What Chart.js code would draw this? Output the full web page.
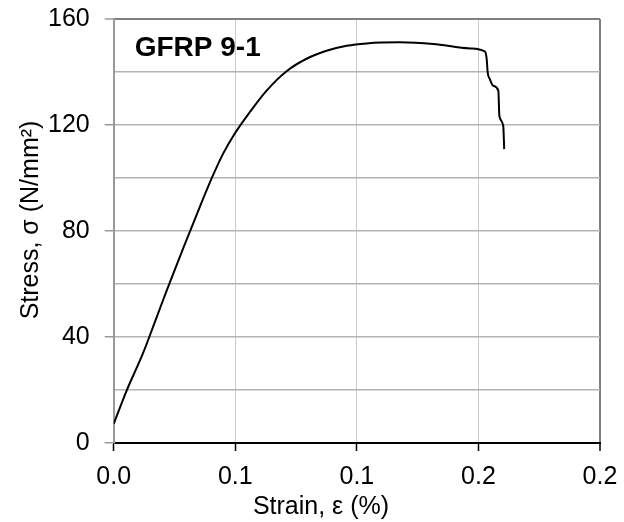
<!DOCTYPE html>
<html>
<head>
<meta charset="utf-8">
<script src="https://cdn.jsdelivr.net/npm/chart.js@4.4.1/dist/chart.umd.min.js"></script>
<style>
  html, body { margin: 0; padding: 0; background: #fff; }
  #wrap { width: 624px; height: 522px; position: relative; }
</style>
</head>
<body>
<div id="wrap"><canvas id="stressChart"></canvas></div>
<script>
// strain (%) and stress (N/mm2)
const strain = [0, 0.0052, 0.0121, 0.0178, 0.0219, 0.0288, 0.0343, 0.0405, 0.0450, 0.0498,
  0.0560, 0.0628, 0.0711, 0.0793, 0.0875, 0.0958, 0.1040, 0.1177, 0.1314, 0.1465,
  0.1527, 0.1534, 0.1538, 0.1547, 0.1561, 0.1582, 0.1586, 0.1602, 0.1606];
const stress = [7.2, 19.5, 34.0, 47.8, 57.8, 74.0, 86.6, 100.3, 109.2, 116.8,
  124.9, 132.9, 140.3, 145.0, 148.0, 149.9, 150.8, 151.2, 150.6, 148.9,
  147.7, 144.9, 139.9, 137.3, 134.8, 132.9, 123.5, 119.7, 110.9];

// Excel-style rounded labels for ticks at 0, 0.05, 0.10, 0.15, 0.20
const xTickLabels = ['0.0', '0.1', '0.1', '0.2', '0.2'];
const chartTitle = 'GFRP 9-1';
const xTitle = 'Strain, ε (%)';
const yTitle = 'Stress, σ (N/mm²)';

const FONT = 'Arial, "Liberation Sans", sans-serif';

// axis titles and the label inside the plot
const textPlugin = {
  id: 'texts',
  afterDraw(chart) {
    const ctx = chart.ctx;
    const area = chart.chartArea;
    ctx.save();
    ctx.fillStyle = '#000';
    ctx.font = 'bold 28px ' + FONT;
    ctx.textAlign = 'left';
    ctx.textBaseline = 'alphabetic';
    ctx.fillText(chartTitle, area.left + 21, area.top + 37);

    ctx.font = '25px ' + FONT;
    ctx.textAlign = 'center';
    ctx.textBaseline = 'middle';
    ctx.fillText(xTitle, 321, 507);

    ctx.translate(31, 220);
    ctx.rotate(-Math.PI / 2);
    ctx.fillText(yTitle, 0, 0);
    ctx.restore();
  }
};

const ctx = document.getElementById('stressChart');
new Chart(ctx, {
  type: 'scatter',
  data: {
    datasets: [{
      label: chartTitle,
      data: strain.map((s, i) => ({ x: s, y: stress[i] })),
      showLine: true,
      borderColor: '#000',
      borderWidth: 2,
      pointRadius: 0,
      cubicInterpolationMode: 'monotone'
    }]
  },
  options: {
    responsive: true,
    maintainAspectRatio: false,
    animation: false,
    layout: { padding: { left: 33, right: 24, top: 19, bottom: 19 } },
    plugins: {
      legend: { display: false },
      tooltip: { enabled: false }
    },
    scales: {
      x: {
        type: 'linear',
        min: 0,
        max: 0.2,
        afterBuildTicks: (axis) => {
          axis.ticks = [0, 0.05, 0.1, 0.15, 0.2].map(v => ({ value: v }));
        },
        afterFit: (axis) => { axis.paddingRight = 0; },
        ticks: {
          color: '#000',
          font: { family: FONT, size: 25 },
          padding: 11,
          maxRotation: 0,
          callback: (value, index) => xTickLabels[index]
        },
        grid: {
          color: (c) => c.tick && c.tick.value >= 0.2 - 1e-9 ? '#808080' : '#cccccc',
          lineWidth: (c) => c.tick && c.tick.value >= 0.2 - 1e-9 ? 2 : 1,
          tickColor: '#000',
          tickLength: 8,
          tickWidth: 1.5
        },
        border: { color: '#000', width: 2 }
      },
      y: {
        min: 0,
        max: 160,
        afterFit: (axis) => { axis.paddingTop = 0; },
        ticks: {
          stepSize: 20,
          color: '#000',
          font: { family: FONT, size: 25 },
          padding: 15,
          callback: (value) => value % 40 === 0 ? value : ''
        },
        grid: {
          color: (c) => {
            if (!c.tick) return '#b3b3b3';
            if (c.tick.value === 160) return '#808080';
            if (c.tick.value === 0) return '#000';
            return '#b3b3b3';
          },
          lineWidth: (c) => c.tick && (c.tick.value === 160) ? 2 : 1.5,
          tickColor: (c) => c.tick && c.tick.value % 40 === 0 ? '#999999' : 'rgba(0,0,0,0)',
          tickLength: 9,
          tickWidth: 1.5
        },
        border: { color: '#999999', width: 2 }
      }
    }
  },
  plugins: [textPlugin]
});
</script>
</body>
</html>
